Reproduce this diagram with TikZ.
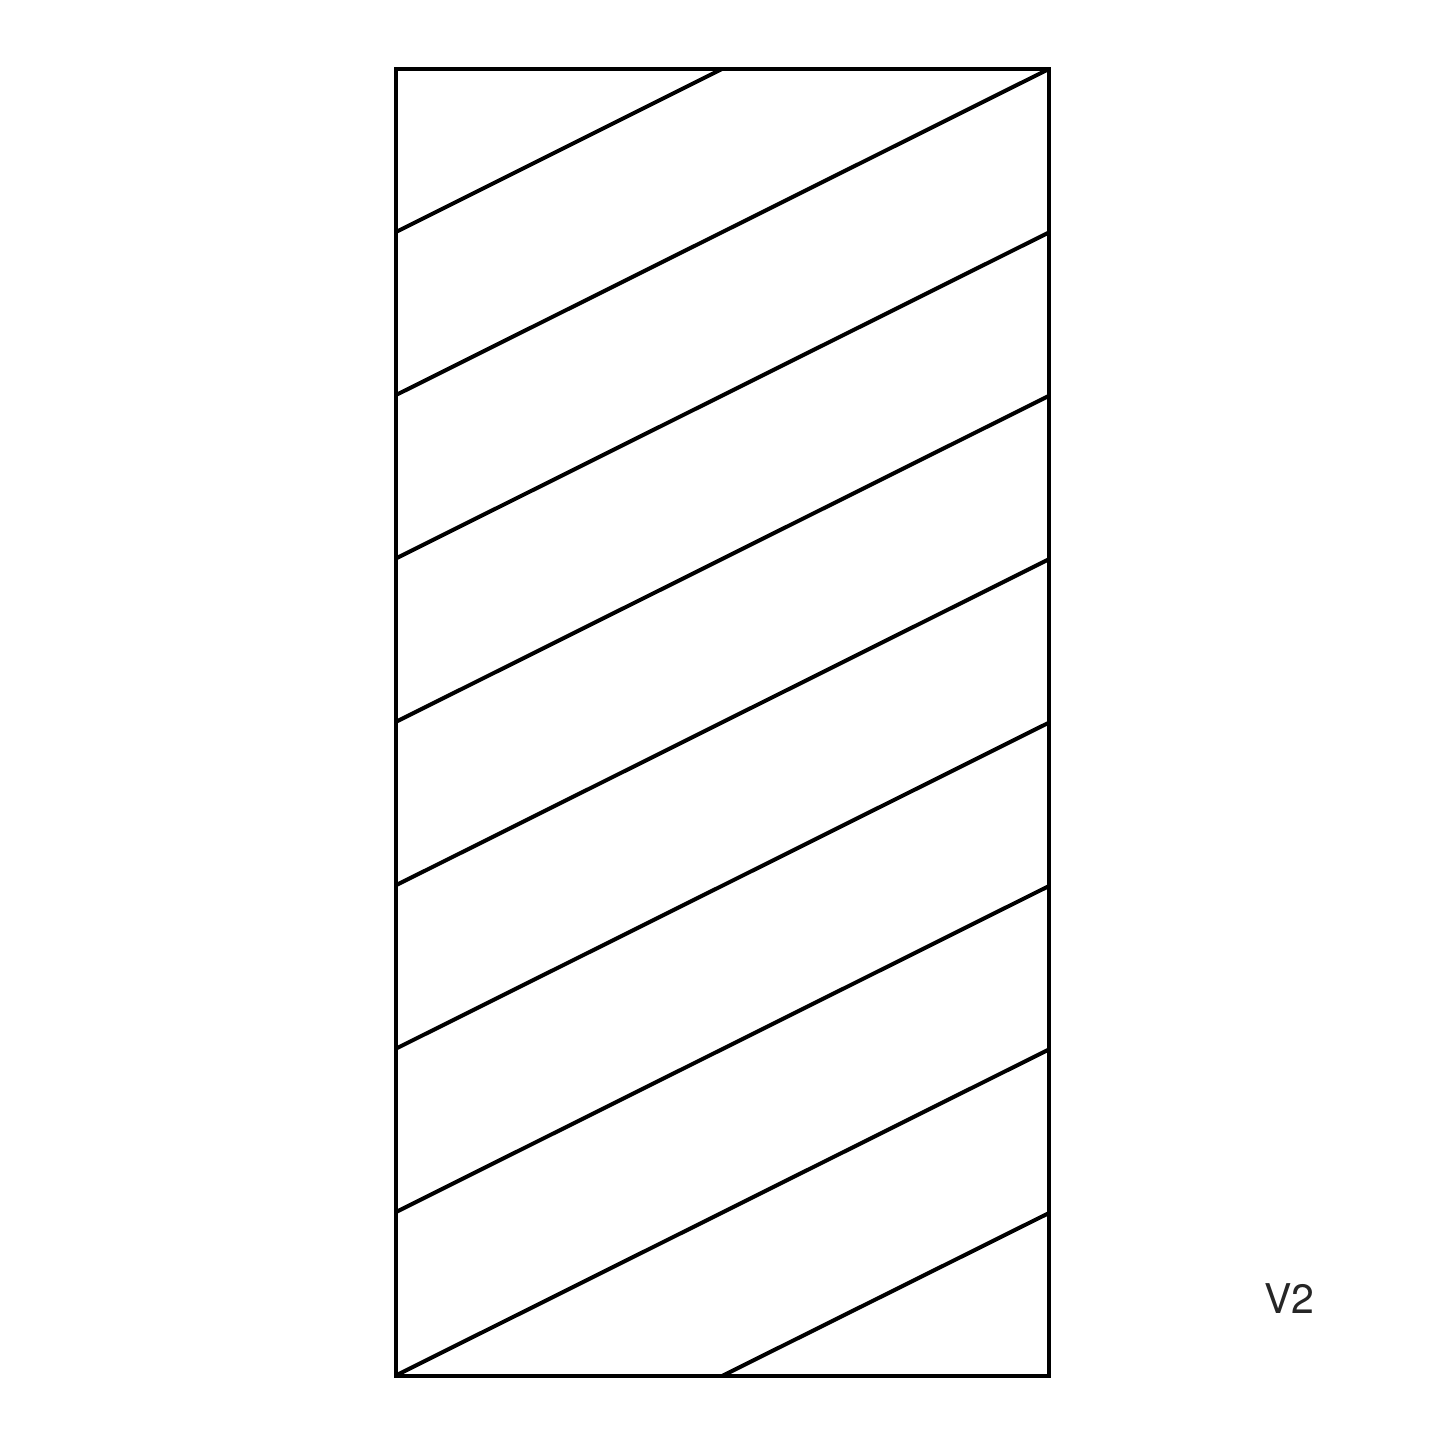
\documentclass[tikz,border=0pt]{standalone}
\usepackage{fontspec}
\setmainfont{TeX Gyre Heros}
\begin{document}
\begin{tikzpicture}[x=1pt,y=-1pt,
  frame/.style={line width=4pt, line join=miter, black},
  stripe/.style={line width=4pt, black},
  label/.style={font=\fontsize{41}{48}\selectfont, text=black!85, inner sep=0pt}]
\useasboundingbox (0,0) rectangle (1445,1445);
\coordinate (TL) at (396,69);
\coordinate (BR) at (1049,1376);
\draw[frame] (TL) rectangle (BR);
% stripes
\coordinate (L1) at (396,232);  \coordinate (T1) at (722,69);
\draw[stripe] (L1) -- (T1);
\foreach \i in {0,...,6}{
  \coordinate (La\i) at (396,{395+163.4*\i});
  \coordinate (Ra\i) at (1049,{69+163.4*\i});
  \draw[stripe] (La\i) -- (Ra\i);
}
\coordinate (B9) at (722,1376); \coordinate (R9) at (1049,1213);
\draw[stripe] (B9) -- (R9);
\node[label, anchor=base west] (v2) at (1264,1313) {V2};
\end{tikzpicture}
\end{document}
